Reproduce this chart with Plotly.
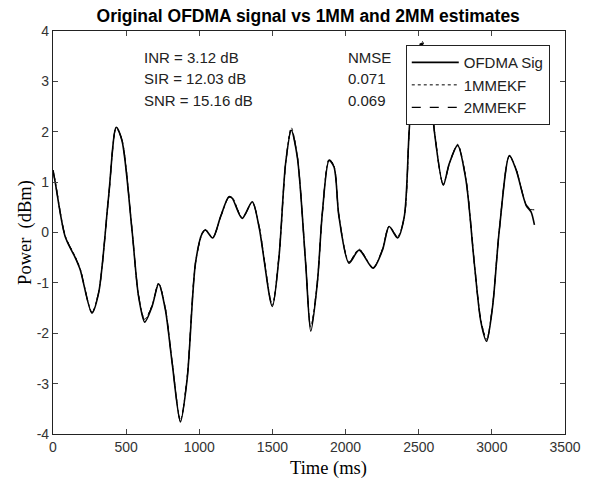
import plotly.graph_objects as go

time_ms = [0, 15, 83, 152, 186, 266, 312, 380, 432, 471, 540, 585, 627, 677, 722, 768,
           814, 871, 917, 974, 1019, 1042, 1092, 1145, 1202, 1225, 1293, 1362, 1408, 1499,
           1545, 1590, 1629, 1670, 1727, 1762, 1807, 1841, 1887, 1921, 1955, 2024, 2092,
           2188, 2252, 2298, 2355, 2401, 2435, 2469, 2522, 2572, 2606, 2668, 2709, 2766,
           2823, 2880, 2926, 2964, 3005, 3051, 3120, 3166, 3234, 3268, 3291]

ofdma_sig = [1.24, 1.0, -0.08, -0.5, -0.74, -1.6, -1.2, 0.71, 2.09, 1.83, 0.05, -1.27,
             -1.78, -1.47, -1.02, -1.53, -2.58, -3.76, -2.91, -0.61, -0.02, 0.05, -0.11,
             0.31, 0.71, 0.68, 0.28, 0.61, 0.12, -1.47, -0.48, 1.37, 2.03, 1.5, -0.61,
             -1.96, -1.0, 0.38, 1.43, 1.3, 0.31, -0.61, -0.35, -0.71, -0.35, 0.12, -0.11,
             0.31, 2.03, 3.34, 3.74, 3.21, 2.03, 0.94, 1.37, 1.73, 1.04, -0.61, -1.79,
             -2.16, -1.47, 0.05, 1.53, 1.24, 0.54, 0.41, 0.15]

est_1mm = [1.22, 1.02, -0.06, -0.48, -0.72, -1.58, -1.18, 0.69, 2.07, 1.85, 0.07, -1.25,
           -1.72, -1.45, -1.0, -1.5, -2.55, -3.72, -2.88, -0.6, -0.03, 0.06, -0.1,
           0.3, 0.7, 0.7, 0.3, 0.6, 0.14, -1.44, -0.47, 1.35, 2.08, 1.52, -0.6,
           -1.88, -0.98, 0.37, 1.45, 1.32, 0.33, -0.58, -0.33, -0.7, -0.33, 0.13, -0.08,
           0.3, 2.0, 3.3, 3.8, 3.2, 2.05, 0.96, 1.36, 1.75, 1.06, -0.6, -1.75,
           -2.12, -1.45, 0.06, 1.52, 1.26, 0.56, 0.46, 0.45]

est_2mm = [1.23, 1.01, -0.07, -0.49, -0.73, -1.59, -1.19, 0.7, 2.08, 1.84, 0.06, -1.26,
           -1.74, -1.46, -1.01, -1.51, -2.56, -3.74, -2.89, -0.6, -0.02, 0.05, -0.1,
           0.31, 0.7, 0.69, 0.29, 0.6, 0.13, -1.45, -0.47, 1.36, 2.05, 1.51, -0.6,
           -1.9, -0.99, 0.38, 1.44, 1.31, 0.32, -0.59, -0.34, -0.7, -0.34, 0.12, -0.09,
           0.3, 2.02, 3.32, 3.76, 3.2, 2.04, 0.95, 1.36, 1.74, 1.05, -0.6, -1.77,
           -2.14, -1.46, 0.05, 1.52, 1.25, 0.55, 0.44, 0.42]

x_ticks = [0, 500, 1000, 1500, 2000, 2500, 3000, 3500]
y_ticks = [-4, -3, -2, -1, 0, 1, 2, 3, 4]
y_tick_text = ["-4", "-3", "-2", "-1", "0", "1", "2", "3", "4"]

stat_labels = ["INR = 3.12 dB", "SIR = 12.03 dB", "SNR = 15.16 dB"]
nmse_labels = ["NMSE", "0.071", "0.069"]

SANS = "Liberation Sans, Arial"
SERIF = "Liberation Serif, Times New Roman"

fig = go.Figure()
fig.add_trace(go.Scatter(x=time_ms, y=ofdma_sig, mode="lines", name="OFDMA Sig",
                         line=dict(color="black", width=1.6, shape="spline", smoothing=0.8)))
fig.add_trace(go.Scatter(x=time_ms, y=est_1mm, mode="lines", name="1MMEKF",
                         line=dict(color="black", width=1, dash="dot", shape="spline", smoothing=0.8)))
fig.add_trace(go.Scatter(x=time_ms, y=est_2mm, mode="lines", name="2MMEKF",
                         line=dict(color="black", width=1.2, dash="dash", shape="spline", smoothing=0.8)))

ann = []
ys = [3.48, 3.05, 2.63]
for s, yv in zip(stat_labels, ys):
    ann.append(dict(x=605, y=yv, xref="x", yref="y", text=s, showarrow=False,
                    xanchor="left", font=dict(family=SANS, size=15, color="#222")))
for s, yv in zip(nmse_labels, ys):
    ann.append(dict(x=2001, y=yv, xref="x", yref="y", text=s, showarrow=False,
                    xanchor="left", font=dict(family=SANS, size=15, color="#222")))
ann.append(dict(x=0.539, y=-0.085, xref="paper", yref="paper", text="Time (ms)",
                showarrow=False, xanchor="center", yanchor="middle",
                font=dict(family=SERIF, size=18.5, color="black")))

fig.update_layout(
    width=595, height=483,
    margin=dict(l=53, r=30, t=31, b=49),
    paper_bgcolor="white", plot_bgcolor="white",
    title=dict(text="<b>Original OFDMA signal vs 1MM and 2MM estimates</b>",
               x=0.518, xanchor="center", y=0.968, yanchor="middle",
               font=dict(family=SANS, size=17.5, color="black")),
    xaxis=dict(range=[0, 3500], tickvals=x_ticks, ticks="inside", ticklen=5, mirror="ticks",
               showline=True, linecolor="#222", linewidth=1.2, showgrid=False, zeroline=False,
               tickfont=dict(family=SANS, size=14, color="#333")),
    yaxis=dict(range=[-4, 4], tickvals=y_ticks, ticktext=y_tick_text, ticks="inside",
               ticklen=5, mirror="ticks",
               showline=True, linecolor="#222", linewidth=1.2, showgrid=False, zeroline=False,
               tickfont=dict(family=SANS, size=14, color="#333"),
               title=dict(text="Power  (dBm)", standoff=0,
                          font=dict(family=SERIF, size=18.5, color="black"))),
    legend=dict(x=0.689, y=0.965, xanchor="left", yanchor="top", bgcolor="white",
                bordercolor="#222", borderwidth=1, tracegroupgap=0, itemwidth=47,
                font=dict(family=SANS, size=15, color="#222")),
    annotations=ann,
    showlegend=True,
)

fig.write_html("out.html", config={"displayModeBar": False},
               post_script="document.body.style.margin='0';")
